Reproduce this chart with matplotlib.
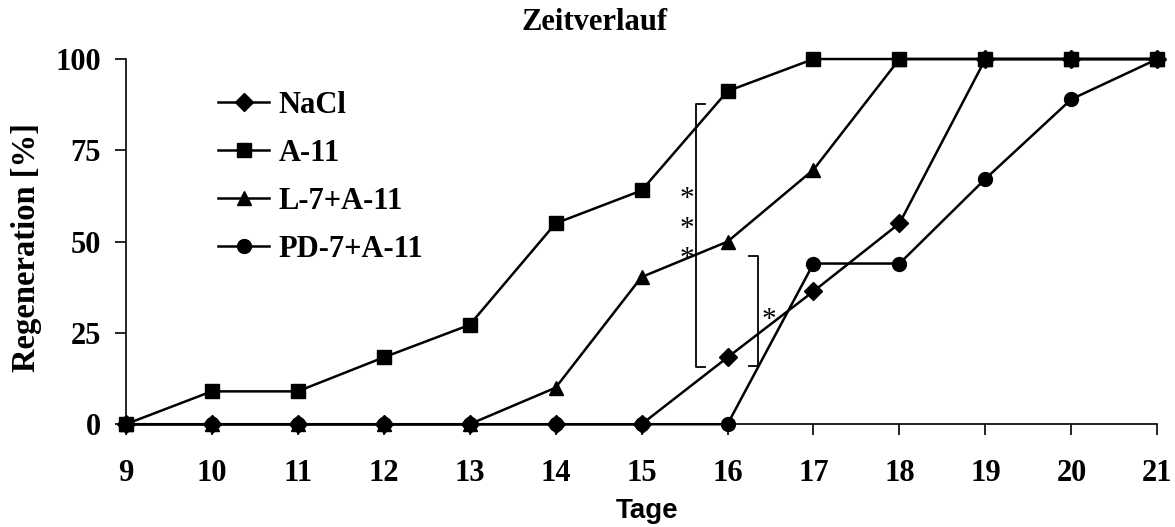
import numpy as np
import matplotlib
matplotlib.use("Agg")
import matplotlib.pyplot as plt

days = [9, 10, 11, 12, 13, 14, 15, 16, 17, 18, 19, 20, 21]
nacl = [0, 0, 0, 0, 0, 0, 0, 18.3, 36.4, 55, 100, 100, 100]
a11 = [0, 9, 9, 18.3, 27.2, 55, 64, 91.2, 100, 100, 100, 100, 100]
l7_a11 = [0, 0, 0, 0, 0, 10, 40.3, 50, 69.7, 100, 100, 100, 100]
pd7_a11 = [0, 0, 0, 0, 0, 0, 0, 0, 44, 44, 67.2, 89, 100]
labels = ["NaCl", "A-11", "L-7+A-11", "PD-7+A-11"]
yticks = [0, 25, 50, 75, 100]

serif = "Liberation Serif"
sans = "Liberation Sans"

fig = plt.figure(figsize=(11.75, 5.27), dpi=100)
ax = fig.add_axes([0.107, 0.195, 0.878, 0.693])

series = [(nacl, "D", 9), (a11, "s", 10), (l7_a11, "^", 10), (pd7_a11, "o", 10)]
for (vals, mk, ms), lab in zip(series, labels):
    ax.plot(days, vals, color="black", lw=1.8, marker=mk, ms=ms,
            markerfacecolor="black", markeredgecolor="black",
            label=lab, clip_on=False, zorder=3)

ax.set_xlim(9, 21)
ax.set_ylim(0, 100)
ax.set_xticks(days)
ax.set_yticks(yticks)
for s in ["top", "right"]:
    ax.spines[s].set_visible(False)
for s in ["left", "bottom"]:
    ax.spines[s].set_linewidth(1.2)
ax.tick_params(axis="both", direction="out", length=8, width=1.2)
ax.tick_params(axis="x", pad=17)
ax.tick_params(axis="y", pad=10)
for t in ax.get_xticklabels() + ax.get_yticklabels():
    t.set_fontfamily(serif)
    t.set_fontweight("bold")
    t.set_fontsize(22)

# significance brackets
bx, by0, by1 = 15.63, 15.7, 87.6
ax.plot([bx + 0.11, bx, bx, bx + 0.11], [by0, by0, by1, by1], color="black", lw=1.3)
for yy in [64, 55.7, 47.5]:
    ax.text(bx - 0.1, yy - 2.2, "*", fontsize=21, fontfamily=serif, ha="center", va="center")
sx, sy0, sy1 = 16.35, 15.9, 46
ax.plot([sx - 0.1, sx, sx, sx - 0.1], [sy0, sy0, sy1, sy1], color="black", lw=1.3)
ax.text(sx + 0.13, 30.8 - 2.2, "*", fontsize=21, fontfamily=serif, ha="center", va="center")

leg = ax.legend(loc="upper left", bbox_to_anchor=(0.089, 0.912), frameon=False,
                prop={"family": serif, "weight": "bold", "size": 22},
                handlelength=1.7, handletextpad=0.3, labelspacing=0.62,
                borderaxespad=0, borderpad=0)

fig.text(595 / 1175, 1 - 23 / 527, "Zeitverlauf", fontfamily=serif, fontweight="bold",
         fontsize=22, ha="center", va="center")
fig.text(647 / 1175, 1 - 511 / 527, "Tage", fontfamily=sans, fontweight="bold",
         fontsize=20, ha="center", va="center")
fig.text(27 / 1175, 1 - 248 / 527, "Regeneration [%]", fontfamily=serif, fontweight="bold",
         fontsize=23.5, ha="center", va="center", rotation=90)

fig.savefig("out.png", dpi=100)
